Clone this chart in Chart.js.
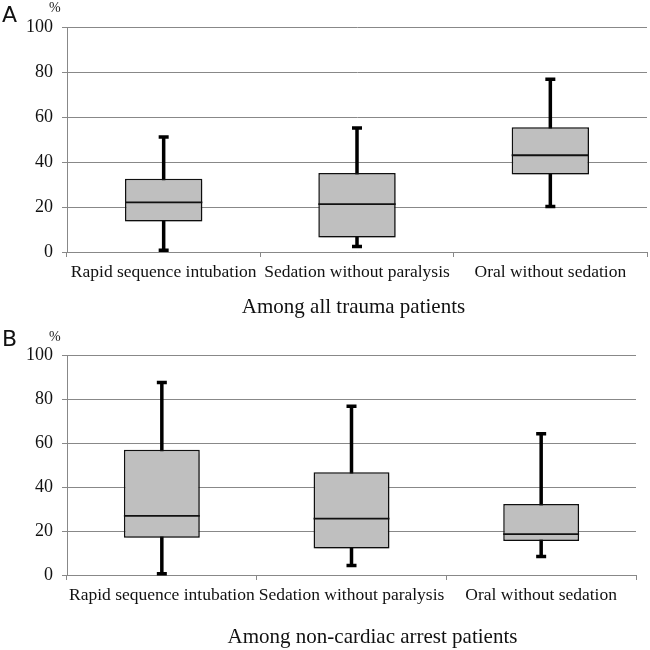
<!DOCTYPE html>
<html>
<head>
<meta charset="utf-8">
<script src="https://cdn.jsdelivr.net/npm/chart.js@4.4.1/dist/chart.umd.min.js"></script>
<style>
  body { margin: 0; background: #fff; }
  .panel { position: absolute; left: 0; width: 650px; }
  #panelA { top: 0; height: 322px; }
  #panelB { top: 322px; height: 328px; }
  .letter { position: absolute; left: 2px; font: 22px "DejaVu Sans", sans-serif; color: #111; }
  .pct { position: absolute; left: 49px; font: 14px "Liberation Serif", serif; color: #222; }
</style>
</head>
<body>
<div class="panel" id="panelA"><canvas id="chartA"></canvas></div>
<div class="panel" id="panelB"><canvas id="chartB"></canvas></div>
<span class="letter" style="top:2px">A</span>
<span class="pct" style="top:0px">%</span>
<span class="letter" style="top:326px">B</span>
<span class="pct" style="top:329px">%</span>

<script>
const categories = ['Rapid sequence intubation', 'Sedation without paralysis', 'Oral without sedation'];
const yTicks = [0, 20, 40, 60, 80, 100];

// A: among all trauma patients
const minA = [0.8, 2.5, 20.2];
const q1A = [13.6, 6.4, 34.5];
const medianA = [22.1, 21.3, 43.0];
const q3A = [32.6, 35.1, 55.4];
const maxA = [51.1, 55.1, 76.8];

// B: among non-cardiac arrest patients
const minB = [0.6, 4.3, 8.4];
const q1B = [16.9, 12.0, 15.4];
const medianB = [26.9, 25.6, 18.6];
const q3B = [56.9, 46.7, 32.3];
const maxB = [87.5, 76.7, 64.2];

const GRID = '#888888';
const SERIF = '"Liberation Serif", "Times New Roman", serif';

// whiskers go under the boxes, medians on top
const boxPlotPlugin = {
  id: 'boxPlot',
  beforeDatasetsDraw(chart) {
    const { ctx, scales: { y } } = chart;
    const meta = chart.getDatasetMeta(0);
    const stats = chart.options.plugins.boxPlot;
    ctx.save();
    ctx.strokeStyle = '#000';
    ctx.lineWidth = 3.5;
    meta.data.forEach((bar, i) => {
      const x = bar.x;
      const yMin = y.getPixelForValue(stats.min[i]);
      const yMax = y.getPixelForValue(stats.max[i]);
      ctx.beginPath();
      ctx.moveTo(x, yMin);
      ctx.lineTo(x, yMax);
      ctx.moveTo(x - 5, yMin);
      ctx.lineTo(x + 5, yMin);
      ctx.moveTo(x - 5, yMax);
      ctx.lineTo(x + 5, yMax);
      ctx.stroke();
    });
    ctx.restore();
  },
  beforeDatasetDraw(chart) {
    const ctx = chart.ctx;
    ctx.save();
    ctx.shadowColor = 'rgba(0,0,0,0.35)';
    ctx.shadowBlur = 4;
    ctx.shadowOffsetX = 1.5;
    ctx.shadowOffsetY = 1.5;
  },
  afterDatasetDraw(chart) {
    chart.ctx.restore();
  },
  afterDatasetsDraw(chart) {
    const { ctx, scales: { y } } = chart;
    const meta = chart.getDatasetMeta(0);
    const stats = chart.options.plugins.boxPlot;
    ctx.save();
    ctx.strokeStyle = '#111';
    ctx.lineWidth = 1.8;
    meta.data.forEach((bar, i) => {
      const yMed = y.getPixelForValue(stats.median[i]);
      const half = bar.width / 2;
      ctx.beginPath();
      ctx.moveTo(bar.x - half, yMed);
      ctx.lineTo(bar.x + half, yMed);
      ctx.stroke();
    });
    ctx.restore();
  }
};

// x axis caption, not quite centred in the original
const captionPlugin = {
  id: 'caption',
  afterDraw(chart) {
    const opts = chart.options.plugins.caption;
    const { ctx, chartArea } = chart;
    ctx.save();
    ctx.fillStyle = '#111';
    ctx.font = '21px ' + SERIF;
    ctx.textAlign = 'center';
    ctx.textBaseline = 'middle';
    ctx.fillText(opts.text, (chartArea.left + chartArea.right) / 2 + opts.dx, chartArea.bottom + opts.dy);
    ctx.restore();
  }
};

function makePanel(canvasId, mins, q1s, medians, q3s, maxs, title, pad) {
  const ctx = document.getElementById(canvasId).getContext('2d');
  return new Chart(ctx, {
    type: 'bar',
    data: {
      labels: categories,
      datasets: [{
        data: categories.map((c, i) => [q1s[i], q3s[i]]),
        backgroundColor: '#bfbfbf',
        borderColor: '#111',
        borderWidth: 1.5,
        borderSkipped: false,
        categoryPercentage: 1,
        barPercentage: 0.4,
      }],
    },
    options: {
      responsive: true,
      maintainAspectRatio: false,
      animation: false,
      layout: { padding: { top: pad.top, right: pad.right, left: 0, bottom: 0 } },
      plugins: {
        legend: { display: false },
        tooltip: { enabled: false },
        boxPlot: { min: mins, median: medians, max: maxs },
        caption: { text: title, dx: pad.titleDx, dy: pad.titleDy },
      },
      scales: {
        x: {
          afterFit: s => { s.height = pad.xHeight; },
          grid: { display: true, drawOnChartArea: false, drawTicks: true, tickLength: 5, color: GRID },
          border: { display: true, color: GRID, width: 1 },
          ticks: { color: '#111', padding: 5, maxRotation: 0, autoSkip: false, font: { family: SERIF, size: 17.5 } },
        },
        y: {
          min: 0,
          max: 100,
          afterFit: s => { s.width = 67; },
          afterBuildTicks: s => { s.ticks = yTicks.map(v => ({ value: v })); },
          grid: { color: GRID, lineWidth: 1, drawTicks: true, tickLength: 5 },
          border: { display: true, color: GRID, width: 1 },
          ticks: { color: '#111', padding: 9, font: { family: SERIF, size: 18 } },
        },
      },
    },
    plugins: [boxPlotPlugin, captionPlugin],
  });
}

makePanel('chartA', minA, q1A, medianA, q3A, maxA, 'Among all trauma patients',
  { top: 27, right: 3, xHeight: 70, titleDx: -3.5, titleDy: 55 });
makePanel('chartB', minB, q1B, medianB, q3B, maxB, 'Among non-cardiac arrest patients',
  { top: 33, right: 14, xHeight: 75, titleDx: 21, titleDy: 62 });
</script>
</body>
</html>
